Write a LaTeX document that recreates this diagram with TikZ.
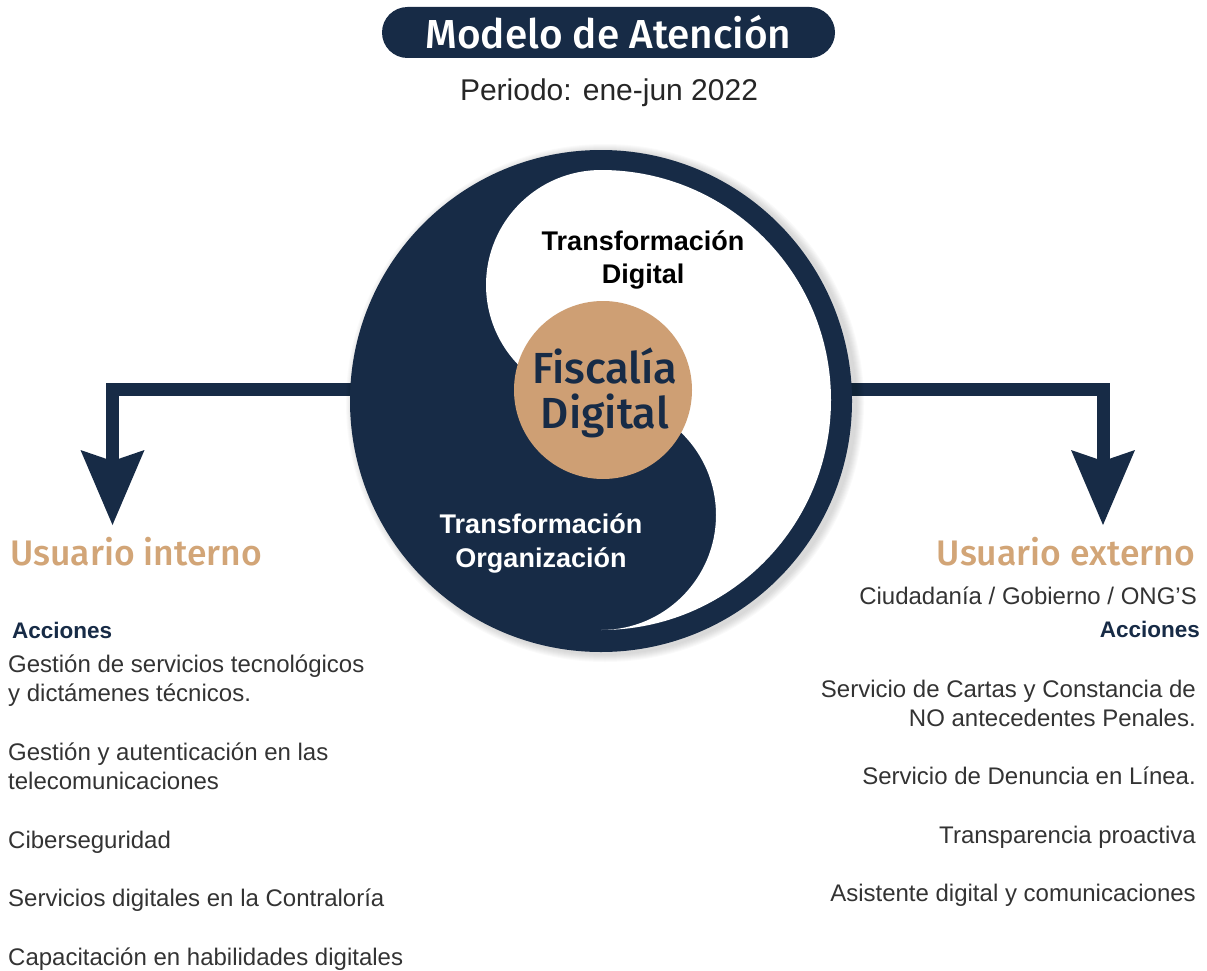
\documentclass[tikz,border=0pt]{standalone}
\usepackage{fontspec}
\setmainfont{Liberation Sans}
\newfontfamily\headfont{Fira Sans Medium}
\usetikzlibrary{arrows.meta}
\definecolor{navy}{HTML}{172B46}
\definecolor{tanfill}{HTML}{CE9F74}
\definecolor{tantext}{HTML}{D2A577}
\begin{document}
\begin{tikzpicture}[x=1pt,y=1pt,
  body/.style={inner sep=0pt, font=\fontsize{24}{29}\selectfont, text=black!80},
  acc/.style={inner sep=0pt, font=\fontsize{22.5}{26}\selectfont\bfseries, text=navy},
  usr/.style={inner sep=0pt, font=\headfont\fontsize{35.5}{40}\selectfont, text=tantext},
  ttl/.style={inner sep=0pt, font=\fontsize{27}{33}\selectfont\bfseries},
  fdtext/.style={inner sep=0pt, font=\headfont\fontsize{43.5}{45}\selectfont, text=navy, anchor=base},
  flow/.style={draw=navy, line width=13pt, line join=miter,
    -{Stealth[length=75pt,width=64pt,inset=11pt,line width=0pt]}},
]
\useasboundingbox (0,0) rectangle (1207,-971);

% title
\node[fill=navy, rounded corners=25.5pt, minimum width=453pt, minimum height=51pt,
      inner sep=0pt, text=white, font=\headfont\fontsize{40.5}{42}\selectfont]
      (title) at (608.5,-32.5) {Modelo de Atención};
\node[inner sep=0pt, anchor=base, font=\fontsize{30}{34}\selectfont, text=black!85]
      (period) at (609,-101) {Periodo: ene-jun 2022};

% arrows (behind circle)
\coordinate (lstart) at (450,-389.5);
\coordinate (ltip) at (112.5,-525);
\coordinate (rstart) at (760,-389.5);
\coordinate (rtip) at (1103,-525);
\draw[flow] (lstart) -| (ltip);
\draw[flow] (rstart) -| (rtip);

% soft shadow of the disc
\foreach \k in {1,...,8}
  \fill[black, opacity=0.018] (605,-403) circle[radius=251+\k];

% yin-yang
\node[circle, fill=navy, minimum size=502pt, inner sep=0pt] (yy) at (601,-401) {};
\fill[white] (601,-170) arc[start angle=90, end angle=-90, radius=230]
  arc[start angle=-90, end angle=90, radius=115]
  arc[start angle=270, end angle=90, radius=115] -- cycle;
\node[circle, fill=tanfill, minimum size=178pt, inner sep=0pt] (fd) at (603,-390) {};
\node[fdtext] (fd1) at (605,-383) {Fiscalía};
\node[fdtext] (fd2) at (605,-428) {Digital};

\node[ttl, anchor=base, text=black] (td1) at (643,-250) {Transformación};
\node[ttl, anchor=base, text=black] (td2) at (643,-283) {Digital};
\node[ttl, anchor=base, text=white] (to1) at (541,-533) {Transformación};
\node[ttl, anchor=base, text=white] (to2) at (541,-567) {Organización};

% left column
\node[usr, anchor=base west] (ui) at (10,-565) {Usuario interno};
\node[acc, anchor=base west] (lacc) at (12,-638) {Acciones};
\node[body, anchor=base west] (l1) at (8,-672) {Gestión de servicios tecnológicos};
\node[body, anchor=base west] (l2) at (8,-701) {y dictámenes técnicos.};
\node[body, anchor=base west] (l3) at (8,-760) {Gestión y autenticación en las};
\node[body, anchor=base west] (l4) at (8,-789) {telecomunicaciones};
\node[body, anchor=base west] (l5) at (8,-848) {Ciberseguridad};
\node[body, anchor=base west] (l6) at (8,-906) {Servicios digitales en la Contraloría};
\node[body, anchor=base west] (l7) at (8,-965) {Capacitación en habilidades digitales};

% right column
\node[usr, anchor=base east] (ue) at (1195,-565) {Usuario externo};
\node[body, anchor=base east] (r0) at (1197,-604) {Ciudadanía / Gobierno / ONG’S};
\node[acc, anchor=base east] (racc) at (1200,-637) {Acciones};
\node[body, anchor=base east] (r1) at (1196,-697) {Servicio de Cartas y Constancia de};
\node[body, anchor=base east] (r2) at (1196,-726) {NO antecedentes Penales.};
\node[body, anchor=base east] (r3) at (1196,-784) {Servicio de Denuncia en Línea.};
\node[body, anchor=base east] (r4) at (1196,-843) {Transparencia proactiva};
\node[body, anchor=base east] (r5) at (1196,-901) {Asistente digital y comunicaciones};
\end{tikzpicture}
\end{document}
